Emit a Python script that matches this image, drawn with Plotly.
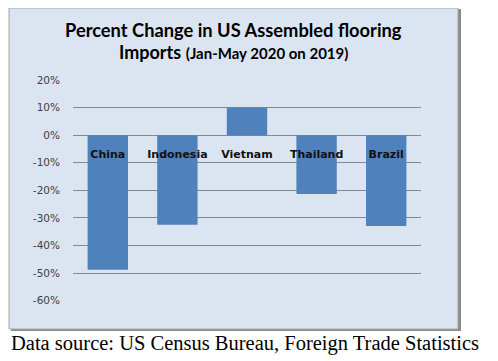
import plotly.graph_objects as go

countries = ["China", "Indonesia", "Vietnam", "Thailand", "Brazil"]
pct_change = [-48.8, -32.5, 10.0, -21.3, -32.9]
y_tickvals = [-60, -50, -40, -30, -20, -10, 0, 10, 20]
y_ticktext = ["-60%", "-50%", "-40%", "-30%", "-20%", "-10%", "0%", "10%", "20%"]

# page body has an 8px default margin; figure is sized/positioned to compensate
OFF = 8
W, H = 490, 350

def px_x(x):
    return (x - OFF) / W

def px_y(y):
    return 1 - (y - OFF) / H

fig = go.Figure()
fig.add_trace(go.Bar(
    x=countries, y=pct_change,
    marker=dict(color="#4f81bd", line=dict(width=0)),
    width=0.58,
))

shapes = [
    # shadow
    dict(type="rect", xref="paper", yref="paper",
         x0=px_x(11), x1=px_x(461), y0=px_y(331), y1=px_y(9),
         fillcolor="#8a8a8a", line=dict(width=0), layer="below"),
    # chart box
    dict(type="rect", xref="paper", yref="paper",
         x0=px_x(9), x1=px_x(458), y0=px_y(329), y1=px_y(8),
         fillcolor="#dbe5f1", line=dict(color="#a6a6a6", width=1), layer="below"),
]

annotations = [
    dict(text="<b>Percent Change in US Assembled flooring</b>",
         xref="paper", yref="paper", x=px_x(233.5), y=px_y(30),
         xanchor="center", yanchor="middle", showarrow=False,
         font=dict(family="Lato", size=18.3, color="#000000")),
    dict(text="<b>Imports</b> <b><span style='font-size:15px'>(Jan-May 2020 on 2019)</span></b>",
         xref="paper", yref="paper", x=px_x(233.5), y=px_y(51.5),
         xanchor="center", yanchor="middle", showarrow=False,
         font=dict(family="Lato", size=18, color="#000000")),
    dict(text="Data source: US Census Bureau, Foreign Trade Statistics",
         xref="paper", yref="paper", x=px_x(9), y=px_y(343),
         xanchor="left", yanchor="middle", showarrow=False,
         font=dict(family="Liberation Serif", size=20.5, color="#000000")),
]

zero_pos = px_y(136)

fig.update_layout(
    width=W, height=H,
    margin=dict(l=0, r=0, t=0, b=0),
    paper_bgcolor="#ffffff",
    plot_bgcolor="#d9d9d9",
    showlegend=False,
    shapes=shapes,
    annotations=annotations,
    xaxis=dict(
        domain=[px_x(73), px_x(421)],
        anchor="free", position=zero_pos,
        showgrid=False, showline=False, zeroline=False,
        ticks="", ticklabelstandoff=10,
        tickfont=dict(family="DejaVu Sans", size=11, color="#111111", weight="bold"),
        automargin=False, fixedrange=True,
    ),
    yaxis=dict(
        domain=[px_y(300.7), px_y(80)],
        range=[-60, 20],
        tickvals=y_tickvals, ticktext=y_ticktext,
        showgrid=True, gridcolor="#888888", gridwidth=1,
        zeroline=False, showline=False, ticks="",
        ticklabelstandoff=12,
        tickfont=dict(family="DejaVu Sans", size=10.5, color="#404040"),
        automargin=False, fixedrange=True,
    ),
)

fig.write_html("out.html")
